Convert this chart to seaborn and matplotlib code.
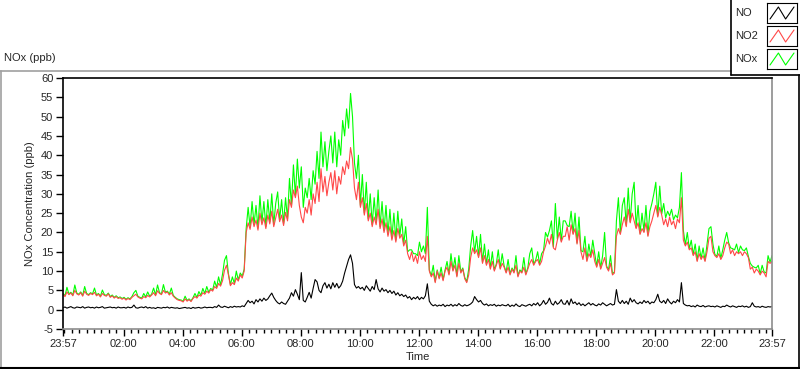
import matplotlib
matplotlib.use("Agg")
import matplotlib.pyplot as plt
from matplotlib.lines import Line2D
from matplotlib.ticker import FixedLocator
import numpy as np
import pandas as pd
import seaborn as sns

# 4-minute samples starting at 23:57, one row per hour (15 values), 361 points
STEP_MIN = 4

no2 = [
    4.0, 3.4, 4.6, 3.9, 4.3, 3.6, 5.0, 4.1, 3.8, 4.4, 3.5, 4.8, 4.0, 3.7, 4.2,
    3.9, 4.5, 3.6, 4.0, 3.3, 4.2, 3.7, 3.5, 4.1, 3.2, 3.6, 3.0, 3.4, 2.9, 3.1,
    2.7, 3.0, 2.5, 2.9, 2.6, 3.2, 3.6, 4.0, 3.3, 3.0, 2.8, 3.4, 3.1, 3.7, 3.3,
    3.8, 4.4, 3.6, 4.9, 4.2, 3.9, 5.0, 4.3, 4.6, 3.8, 4.4, 3.5, 3.0, 2.6, 2.4,
    2.3, 2.0, 2.8, 2.2, 2.6, 2.1, 2.9, 3.4, 3.0, 3.8, 3.5, 4.4, 4.0, 4.8, 4.3,
    5.2, 4.8, 6.0, 5.5, 6.8, 6.1, 7.5, 10.2, 11.5, 9.0, 6.2, 7.0, 6.5, 8.2, 7.4,
    9.0, 8.2, 10.0, 20.0, 22.5, 20.8, 24.0, 21.5, 23.2, 20.6, 25.0, 22.0, 23.8, 21.0, 24.5,
    22.2, 25.5, 21.5, 23.8, 26.0, 22.8, 24.5, 21.8, 25.2, 23.0, 28.5, 26.5, 31.0, 29.0, 32.0,
    27.0, 24.0, 22.5, 26.5, 25.0, 28.5, 24.5, 30.0, 27.5, 33.0, 28.0, 36.5, 30.5, 34.5, 29.5,
    33.0, 35.5, 31.0, 36.0, 30.0, 34.5, 32.5, 37.0, 35.0, 38.5, 36.5, 42.0, 39.0, 31.5, 28.5,
    33.0, 26.5, 29.0, 24.5, 27.5, 23.0, 25.0, 21.5, 24.0, 22.0, 26.0, 21.0, 23.5, 20.0, 22.5,
    19.0, 21.5, 18.0, 20.5, 17.5, 21.0, 18.5, 19.5, 16.5, 18.0, 14.5, 13.0, 15.0, 12.5, 14.0,
    12.0, 15.0, 13.0, 14.0, 12.5, 19.0, 10.0, 8.5, 9.5, 7.0, 10.0, 8.0, 9.5, 7.5, 10.0,
    11.0, 9.0, 12.5, 10.0, 11.5, 8.5, 12.0, 9.5, 10.5, 8.0, 7.0, 9.0, 13.5, 16.0, 14.5,
    15.5, 13.5, 16.0, 12.0, 14.0, 11.5, 13.0, 10.5, 12.5, 10.0, 11.5, 13.0, 10.5, 12.0, 11.0,
    9.5, 11.0, 9.0, 10.5, 9.5, 11.5, 8.5, 10.0, 9.5, 11.0, 9.0, 10.5, 12.0, 13.0, 11.5,
    12.5, 13.0, 11.5, 12.5, 15.0, 16.5, 18.5, 17.0, 19.5, 16.0, 15.5, 18.0, 20.0, 17.5, 19.0,
    19.0, 21.5, 18.0, 22.0, 19.5, 21.0, 17.0, 20.5, 15.0, 13.0, 16.0, 12.5, 14.5, 13.5, 15.5,
    12.5, 11.0, 13.0, 10.5, 12.0, 13.5, 11.0, 10.0, 12.0, 9.0, 9.5, 19.0, 21.0, 19.5, 22.0,
    24.0, 21.5, 26.0, 22.5, 25.0, 23.0, 21.0, 22.5, 19.5, 21.0, 20.0, 22.5, 19.0, 21.5, 23.0,
    25.0, 27.0, 24.0, 26.5, 24.5, 22.0, 23.5, 21.5, 24.0, 22.0, 23.0, 21.0, 23.5, 22.5, 29.0,
    18.0, 16.5, 17.5, 15.5, 16.0, 14.0, 15.0, 12.5, 14.5, 13.0, 14.0, 12.5, 15.0, 18.5, 19.0,
    15.0, 14.0, 13.5, 14.5, 13.0, 14.0, 16.0, 17.5, 17.0, 14.5, 15.5, 14.0, 15.0, 14.5, 15.0,
    14.0, 15.0, 14.5, 13.5, 10.5, 11.0, 9.5, 10.5, 10.0, 9.0, 10.0, 9.5, 8.5, 12.5, 12.0,
    12.5,
]

nox = [
    4.2, 3.6, 5.8, 4.1, 4.5, 3.8, 6.4, 4.3, 4.0, 4.6, 3.7, 6.0, 4.2, 3.9, 4.4,
    4.1, 5.6, 3.8, 4.2, 3.5, 5.1, 3.9, 3.7, 4.3, 3.4, 3.8, 3.2, 3.6, 3.1, 3.3,
    2.9, 3.2, 2.7, 3.1, 2.8, 3.4, 4.4, 5.0, 3.5, 3.2, 3.0, 4.2, 3.3, 4.6, 3.5,
    4.0, 5.6, 3.8, 6.4, 4.4, 4.1, 6.5, 4.5, 4.8, 4.0, 5.6, 3.7, 3.2, 2.8, 2.6,
    2.5, 2.2, 3.5, 2.4, 2.8, 2.3, 3.1, 4.2, 3.2, 4.7, 3.7, 5.5, 4.2, 6.0, 4.5,
    5.5, 5.1, 7.4, 5.8, 8.5, 6.4, 9.2, 12.8, 14.0, 9.3, 6.5, 8.5, 6.8, 10.0, 7.7,
    9.5, 8.7, 10.5, 21.0, 26.5, 21.3, 28.0, 22.0, 27.0, 21.1, 29.5, 22.5, 28.0, 21.5, 28.5,
    22.7, 30.0, 22.0, 27.5, 30.5, 23.3, 28.5, 22.3, 29.0, 23.5, 34.0, 27.0, 37.5, 29.5, 39.0,
    31.5, 37.0, 26.5, 31.5, 29.0, 34.0, 28.5, 36.0, 32.5, 41.0, 34.0, 46.0, 37.0, 43.5, 36.0,
    41.0, 45.0, 38.0, 46.0, 37.0, 44.0, 40.0, 49.0, 45.0, 52.0, 47.0, 56.0, 50.0, 38.0, 34.0,
    40.0, 27.0, 35.0, 25.0, 33.0, 23.5, 30.0, 22.0, 29.0, 22.5, 31.0, 21.5, 28.0, 20.5, 27.0,
    19.5, 26.0, 18.5, 25.0, 18.0, 25.5, 19.0, 23.5, 17.0, 21.5, 15.0, 15.5, 15.5, 14.5, 14.5,
    14.0, 17.5, 15.0, 16.5, 14.5, 26.5, 10.3, 8.8, 11.5, 7.3, 10.3, 8.3, 11.0, 7.8, 10.3,
    12.5, 9.3, 14.5, 10.3, 13.5, 8.8, 14.0, 9.8, 10.8, 8.3, 7.3, 10.5, 16.5, 20.5, 14.8,
    19.0, 13.8, 19.5, 12.3, 17.0, 11.8, 15.5, 10.8, 15.0, 10.3, 11.8, 15.5, 10.8, 14.5, 11.3,
    9.8, 13.0, 9.3, 10.8, 9.8, 14.0, 8.8, 10.3, 9.8, 13.5, 9.3, 10.8, 14.5, 16.0, 11.8,
    12.8, 15.0, 11.8, 14.5, 15.3, 20.0, 18.8, 20.5, 23.0, 16.3, 27.5, 18.3, 24.0, 17.8, 23.0,
    23.0, 21.8, 21.5, 25.5, 19.8, 25.0, 17.3, 24.0, 15.3, 15.0, 19.0, 12.8, 17.0, 13.8, 18.0,
    14.5, 11.3, 15.0, 10.8, 14.0, 20.0, 11.3, 10.3, 14.0, 9.3, 9.8, 23.0, 29.0, 19.8, 27.0,
    29.0, 21.8, 31.5, 22.8, 30.0, 33.0, 21.3, 27.0, 19.8, 25.0, 20.3, 27.0, 19.3, 25.5, 27.5,
    30.0, 33.0, 24.3, 32.0, 24.8, 27.5, 23.8, 25.5, 24.3, 26.0, 23.3, 24.5, 23.8, 26.5, 35.5,
    20.5, 16.8, 20.0, 15.8, 18.0, 14.3, 17.0, 12.8, 16.5, 13.3, 16.0, 12.8, 17.0, 21.0, 21.5,
    17.0, 14.3, 13.8, 16.5, 13.3, 15.5, 18.0, 20.0, 17.3, 16.0, 15.8, 15.5, 17.0, 14.8, 16.5,
    15.5, 15.3, 16.0, 13.8, 12.0, 11.3, 11.0, 10.8, 11.5, 9.3, 11.5, 9.8, 9.5, 14.0, 12.3,
    14.0,
]

no = [
    0.5, 0.7, 0.4, 0.6, 0.8, 0.5, 0.4, 0.7, 0.6, 0.5, 0.8, 0.4, 0.6, 0.7, 0.5,
    0.6, 0.4, 0.7, 0.5, 0.6, 0.8, 0.4, 0.5, 0.6, 0.7, 0.5, 0.6, 0.4, 0.7, 0.5,
    0.5, 0.6, 0.4, 0.7, 0.5, 0.6, 1.2, 0.5, 0.4, 0.6, 0.7, 0.5, 0.8, 0.4, 0.6,
    0.4, 0.5, 0.3, 0.6, 0.5, 0.4, 0.6, 0.5, 0.7, 0.4, 0.6, 0.5, 0.4, 0.5, 0.3,
    0.4, 0.5, 0.6, 0.4, 0.5, 0.3, 0.6, 0.4, 0.5, 0.6, 0.4, 0.5, 0.7, 0.5, 0.6,
    0.6, 0.5, 0.8, 0.6, 1.2, 0.7, 0.6, 0.9, 0.7, 0.5, 0.8, 0.6, 0.9, 0.7, 0.8,
    0.7, 1.0, 0.8, 1.6, 2.4, 1.8, 2.2, 1.5, 2.6, 2.0, 2.8, 2.2, 3.0, 2.4, 2.8,
    3.6, 4.3, 3.2, 2.4, 1.8, 1.5, 2.0, 1.6, 1.4, 2.2, 3.0, 4.4, 3.5, 5.2, 4.0,
    2.6, 9.6, 2.4, 2.0, 3.2, 4.5, 3.0, 5.5, 7.8, 7.2, 5.0, 4.4, 6.2, 7.0, 5.6,
    6.6, 5.4, 7.0, 5.8, 6.8, 5.6, 6.2, 7.4, 9.5, 11.2, 13.0, 14.2, 12.0, 6.5, 5.6,
    6.0, 5.4, 5.8, 5.0, 6.2, 5.5, 4.8, 6.0, 5.2, 7.8, 5.4, 4.6, 5.6, 4.8, 5.2,
    4.4, 5.0, 4.2, 4.8, 3.8, 4.4, 3.6, 4.0, 3.4, 3.8, 3.0, 3.4, 2.6, 3.2, 2.8,
    3.4, 2.6, 3.2, 2.8, 3.6, 6.7, 2.2, 1.4, 1.0, 1.3, 0.9, 1.2, 1.0, 1.4, 0.8,
    1.2, 1.0, 1.4, 0.9, 1.3, 1.0, 1.6, 1.1, 0.9, 1.3, 1.0, 1.2, 1.5, 2.0, 3.4,
    2.6, 2.0, 2.4, 1.6, 1.2, 1.5, 1.0, 1.3, 1.1, 1.4, 0.9, 1.2, 1.0, 1.3, 1.1,
    1.0, 1.4, 0.8, 1.2, 0.9, 1.5, 1.0, 0.8, 1.3, 1.1, 0.9, 1.2, 1.4, 1.0, 1.6,
    1.2, 1.8, 1.0, 1.5, 2.4, 1.4, 1.9, 3.0, 1.6, 1.2, 2.2, 1.4, 1.8, 2.6, 1.5,
    1.4, 2.4, 1.2, 2.8, 1.6, 2.0, 1.3, 1.8, 1.1, 1.5, 1.0, 1.4, 1.8, 1.2, 1.6,
    1.2, 1.0, 1.5, 1.2, 1.8, 1.4, 1.0, 1.3, 1.6, 1.2, 1.4, 5.2, 2.2, 1.6, 2.4,
    1.6, 2.2, 1.4, 3.0, 2.0, 2.6, 1.8, 1.5, 2.0, 1.6, 2.4, 1.8, 2.2, 1.5, 2.0,
    1.8, 2.6, 4.0, 2.2, 1.8, 2.4, 1.6, 2.8, 2.0, 1.5, 2.2, 1.8, 2.6, 2.0, 7.0,
    1.6, 1.2, 1.0, 1.1, 0.8, 1.0, 0.7, 1.2, 0.9, 0.8, 1.1, 0.7, 0.9, 1.0, 0.8,
    0.9, 0.7, 1.0, 0.8, 0.6, 0.9, 0.8, 1.2, 0.9, 0.7, 1.0, 0.8, 0.6, 0.9, 0.8,
    1.0, 0.7, 0.9, 0.6, 0.8, 1.8, 0.9, 0.7, 0.8, 0.6, 0.9, 0.7, 0.6, 0.8, 0.7,
    0.8,
]

# x axis: minutes after 23:57
major_ticks = [0, 123, 243, 363, 483, 603, 723, 843, 963, 1083, 1203, 1323, 1440]
major_labels = ["23:57", "02:00", "04:00", "06:00", "08:00", "10:00", "12:00",
                "14:00", "16:00", "18:00", "20:00", "22:00", "23:57"]
minor_ticks = [3 + 15 * k for k in range(96)]

series_names = ["NO", "NO2", "NOx"]
series_colors = {"NO": "#000000", "NO2": "#ff4848", "NOx": "#00ff00"}

n = len(no2)
assert len(nox) == n and len(no) == n
minutes = np.arange(n) * STEP_MIN
df = pd.DataFrame({"minute": minutes, "NO": no, "NO2": no2, "NOx": nox})
long = df.melt(id_vars="minute", var_name="species", value_name="ppb")

sns.set_theme(style="white")
plt.rcParams["font.family"] = ["Liberation Sans", "DejaVu Sans"]
plt.rcParams["font.size"] = 8
plt.rcParams["axes.unicode_minus"] = False

fig = plt.figure(figsize=(8.0, 3.69), dpi=100)
W, H = 800, 369
ax = fig.add_axes([63 / W, (H - 329) / H, (772 - 63) / W, (329 - 78) / H])

# draw NOx under NO2 under NO
for sp in ["NOx", "NO2", "NO"]:
    sns.lineplot(data=long[long["species"] == sp], x="minute", y="ppb",
                 color=series_colors[sp], linewidth=0.8, ax=ax, legend=False)

ax.set_xlim(0, 1440)
ax.set_ylim(-5, 60)
ax.set_yticks(np.arange(-5, 61, 5))
ax.xaxis.set_major_locator(FixedLocator(major_ticks))
ax.set_xticklabels(major_labels)
ax.xaxis.set_minor_locator(FixedLocator(minor_ticks))
ax.tick_params(axis="both", which="major", direction="out", length=5, width=1,
               color="black", labelsize=8, pad=2, bottom=True, left=True)
ax.tick_params(axis="x", which="minor", direction="out", length=3, width=1,
               color="black", bottom=True)
ax.set_xlabel("Time", fontsize=8, labelpad=2)
ax.set_ylabel("NOx Concentration (ppb)", fontsize=8, labelpad=4)

for side in ["left", "top"]:
    ax.spines[side].set_color("black")
    ax.spines[side].set_linewidth(1.2)
for side in ["right", "bottom"]:
    ax.spines[side].set_color("#8c8c8c")
    ax.spines[side].set_linewidth(1.2)

# outer panel frame and title
fig.add_artist(Line2D([0, 731 / W], [1 - 71 / H] * 2, color="#a0a0a0", lw=1.2))
fig.add_artist(Line2D([1 / W, 1 / W], [1 - 71 / H, 1 / H], color="#a0a0a0", lw=1.2))
fig.add_artist(Line2D([0, 1], [1 / H, 1 / H], color="black", lw=1.5))
fig.add_artist(Line2D([799 / W, 799 / W], [1 / H, 1 - 75 / H], color="black", lw=1.2))
fig.text(4 / W, 1 - 58 / H, "NOx (ppb)", fontsize=8, va="center", ha="left")

# legend panel (LabVIEW style)
fig.add_artist(Line2D([731 / W, 731 / W], [1, 1 - 75 / H], color="black", lw=1.2))
fig.add_artist(Line2D([731 / W, 1], [1 - 75 / H] * 2, color="black", lw=1.2))
for k, name in enumerate(series_names):
    yc = 13 + 23 * k
    fig.text(735 / W, 1 - yc / H, name, fontsize=8, va="center", ha="left")
    sw = fig.add_axes([767 / W, 1 - (yc + 10) / H, 30 / W, 20 / H])
    sw.plot([0.1, 0.38, 0.62, 0.9], [0.2, 0.8, 0.2, 0.8],
            color=series_colors[name], lw=0.8)
    sw.set_xlim(0, 1)
    sw.set_ylim(0, 1)
    sw.set_xticks([])
    sw.set_yticks([])
    for s in sw.spines.values():
        s.set_color("black")
        s.set_linewidth(0.8)

fig.savefig("out.png", dpi=100)
